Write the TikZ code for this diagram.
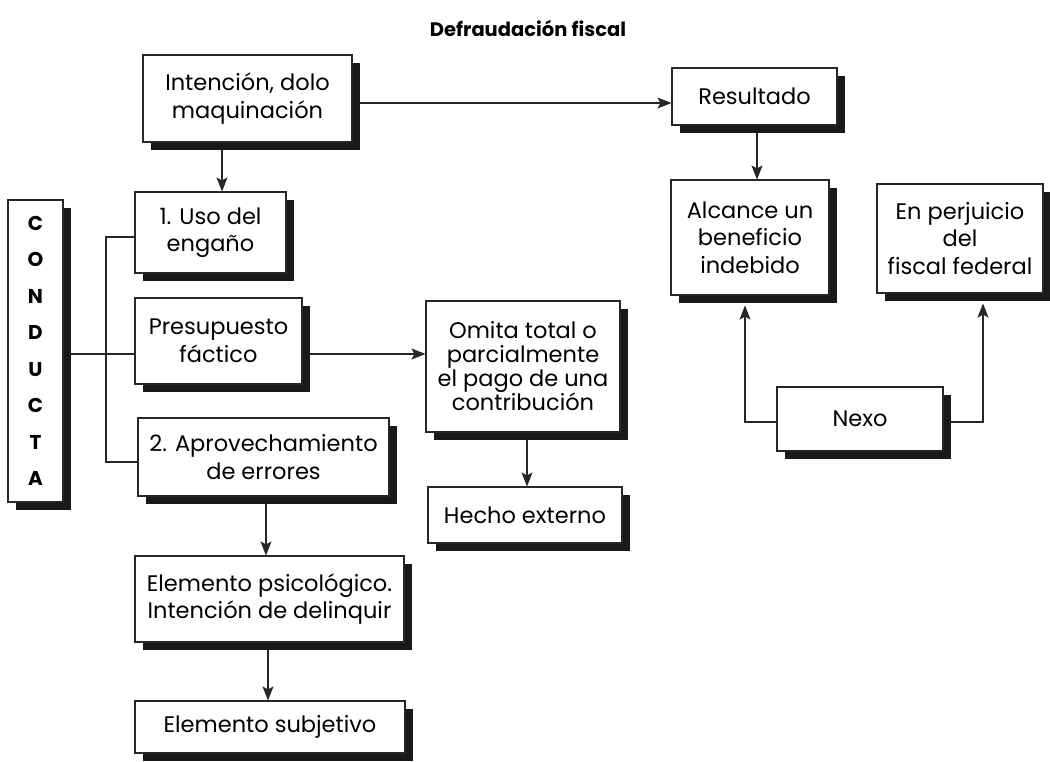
\documentclass[tikz,border=0pt]{standalone}
\usepackage{fontspec}
\setmainfont{Poppins}
\usetikzlibrary{arrows.meta,shadows,backgrounds}

\begin{document}
\begin{tikzpicture}[x=1pt,y=-1pt,
  box/.style={draw=black!85, line width=1.1pt, fill=white, align=center, inner sep=0pt,
    drop shadow={shadow xshift=8pt, shadow yshift=-8pt, opacity=1, fill=black!90},
    font=\fontsize{22.5}{27.5}\selectfont},
  link/.style={line width=1.1pt, draw=black!85},
  arr/.style={link, -{Stealth[length=14pt,width=11pt,inset=3pt]}}]
\useasboundingbox (0,0) rectangle (1050,761);

% title
\node[font=\fontsize{19.5}{22}\selectfont\bfseries] (title) at (528,28) {Defraudación fiscal};

% boxes
\node[box, minimum width=209pt, minimum height=87pt] (intn) at (247.5,98.5) {Intención, dolo\\maquinación};
\node[box, minimum width=165pt, minimum height=57pt] (res) at (754.5,96.5) {Resultado};
\node[box, minimum width=158pt, minimum height=115pt] (alc) at (750,237.5) {Alcance un\\beneficio\\indebido};
\node[box, minimum width=166pt, minimum height=109pt] (perj) at (960,238.5) {En perjuicio\\del\\fiscal federal};
\node[box, minimum width=166pt, minimum height=64pt] (nexo) at (860,419) {Nexo};
\node[box, minimum width=55pt, minimum height=302pt,
      font=\fontsize{20}{36.5}\selectfont\bfseries] (cond) at (35.5,351) {C\\O\\N\\D\\U\\C\\T\\A};
\node[box, minimum width=151pt, minimum height=81pt] (uso) at (210.5,232.5) {1. Uso del\\engaño};
\node[box, minimum width=167pt, minimum height=86pt] (pres) at (218.5,341) {Presupuesto\\fáctico};
\node[box, minimum width=251pt, minimum height=78pt] (aprov) at (263.5,457) {2. Aprovechamiento\\de errores};
\node[box, minimum width=194pt, minimum height=131pt, font=\fontsize{22.5}{24}\selectfont] (omita) at (523,366.5) {Omita total o\\parcialmente\\el pago de una\\contribución};
\node[box, minimum width=194pt, minimum height=56pt] (hecho) at (525,515) {Hecho externo};
\node[box, minimum width=269pt, minimum height=86pt] (psico) at (269.5,599) {Elemento psicológico.\\Intención de delinquir};
\node[box, minimum width=270pt, minimum height=52pt] (subj) at (270,727) {Elemento subjetivo};

% guide coordinates for the connectors
\coordinate (c1) at (222,0);
\coordinate (c2) at (266,0);
\coordinate (c3) at (268,0);
\coordinate (c4) at (527,0);
\coordinate (c5) at (757,0);
\coordinate (c6) at (745,0);
\coordinate (c7) at (983,0);
\coordinate (r1) at (0,103);
\coordinate (r2) at (0,354);
\coordinate (r3) at (0,422);
\coordinate (j1) at (106,237);
\coordinate (j2) at (106,462);

\begin{scope}[on background layer]
\draw[arr] (intn.south -| c1) -- (uso.north -| c1);
\draw[arr] (intn.east |- r1) -- (res.west |- r1);
\draw[arr] (res.south -| c5) -- (alc.north -| c5);
\draw[link] (cond.east |- r2) -- (pres.west |- r2);
\draw[link] (uso.west |- j1) -- (j1) -- (j2) -- (aprov.west |- j2);
\draw[arr] (pres.east |- r2) -- (omita.west |- r2);
\draw[arr] (aprov.south -| c2) -- (psico.north -| c2);
\draw[arr] (psico.south -| c3) -- (subj.north -| c3);
\draw[arr] (omita.south -| c4) -- (hecho.north -| c4);
\draw[arr, shorten >=10pt] (nexo.west |- r3) -| (alc.south -| c6);
\draw[arr, shorten >=10pt] (nexo.east |- r3) -| (perj.south -| c7);
\end{scope}
\end{tikzpicture}
\end{document}
